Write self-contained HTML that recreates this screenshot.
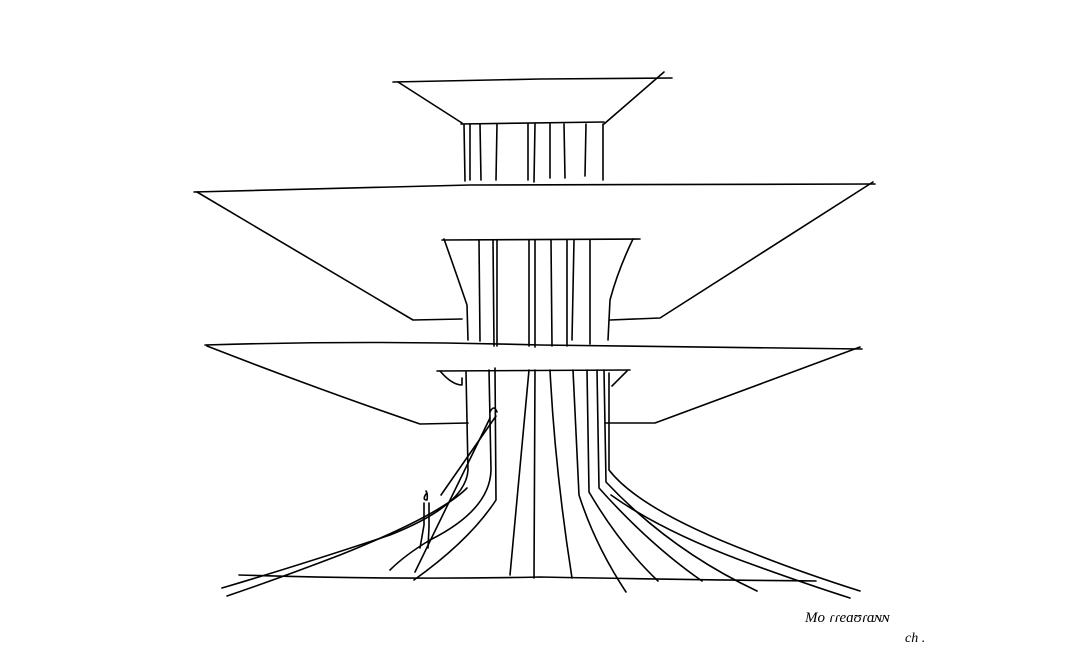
<!DOCTYPE html>
<html><head><style>html,body{margin:0;padding:0;background:#fff;}svg{display:block}</style></head>
<body>
<svg width="1080" height="655" viewBox="0 0 1080 655" xmlns="http://www.w3.org/2000/svg">
<g fill="none" stroke="#000" stroke-width="1.6" stroke-linecap="round" stroke-linejoin="round">
<!-- top tier -->
<path d="M393,82 L540,79 L672,78"/>
<path d="M398,82 L462,123"/>
<path d="M664,72 L604,124"/>
<path d="M461,124 L604,122"/>
<path d="M464,124 L465,181 M470,124 L470,180 M480,124 L481,180 M497,124 L496,180 M528,124 L528,180 M535,124 L534,182 M550,124 L550,178 M564,124 L565,178 M586,124 L585,176 M603,124 L603,180"/>
<!-- second slab -->
<path d="M194,192 Q330,188 470,185 Q700,184 875,184"/>
<path d="M197,192 L413,320 L462,319"/>
<path d="M873,182 L660,318 L610,320"/>
<!-- second column -->
<path d="M442,240 L640,239"/>
<path d="M444,239 Q455,270 467,305 L468,340"/>
<path d="M633,239 Q618,270 610,300 L608,340"/>
<path d="M479,240 L480,341 M493,240 L494,346 M497,240 L497,346 M529,240 L529,346 M535,240 L535,347 M551,240 L552,346 M567,240 L567,346 M574,240 L572,340 M590,240 L590,344"/>
<!-- third slab -->
<path d="M205,345 Q370,340 540,345 Q700,347 862,349"/>
<path d="M207,346 Q320,390 420,424 L468,423"/>
<path d="M860,347 L655,423 L605,423"/>
<!-- third column -->
<path d="M437,371 L630,370"/>
<path d="M440,371 Q452,385 462,385 L462,378 M627,371 Q618,380 612,386"/>
<!-- trunk lines -->
<path d="M466,372 L468,470 Q466,505 390,535 Q300,565 222,588"/>
<path d="M467,488 Q440,515 340,555 Q280,578 227,596"/>
<path d="M489,370 L491,470 Q490,510 430,540 Q405,555 390,570"/>
<path d="M495,368 L496,500 Q470,540 414,580"/>
<path d="M529,370 Q520,470 510,575"/>
<path d="M535,370 L534,578"/>
<path d="M550,370 Q555,470 572,578"/>
<path d="M573,370 L579,495 Q595,545 626,592"/>
<path d="M587,370 L589,492 Q620,545 658,581"/>
<path d="M597,370 L599,488 Q650,545 702,581"/>
<path d="M604,370 L606,482 Q670,550 757,591"/>
<path d="M609,373 L609,470 Q640,510 750,552 Q800,572 860,591"/>
<path d="M611,495 Q660,530 740,560 Q800,582 850,598"/>
<!-- ground -->
<path d="M239,575 Q400,580 540,577 Q700,580 816,581"/>
<!-- person and ramp -->
<path d="M441,495 L496,416 M490,412 Q494,404 497,412"/>
<path d="M415,572 L490,418"/>
<path d="M426,494 Q422,500 427,500 Q428,494 426,491 M424,503 L424,525 L420,548 M429,503 L429,527 L428,548"/>
</g>
<text x="805" y="622" font-family="Liberation Serif, serif" font-style="italic" font-size="15" fill="#000">Mo  ɾɾeɑʊɾɑɴɴ</text>
<text x="905" y="642" font-family="Liberation Serif, serif" font-style="italic" font-size="14" fill="#000">ch .</text>
</svg>
</body></html>
